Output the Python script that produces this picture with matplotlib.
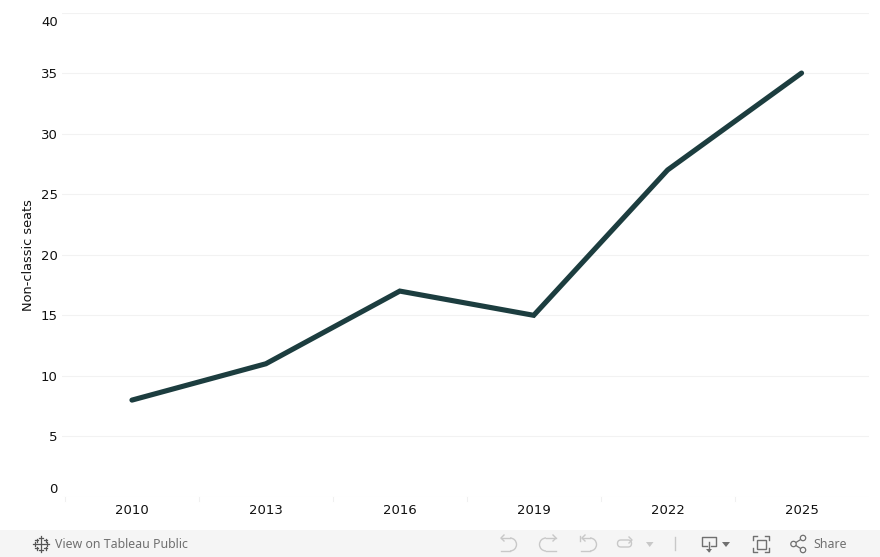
import matplotlib
matplotlib.use('Agg')
import matplotlib.pyplot as plt
import matplotlib.transforms as mtrans
from matplotlib.patches import Rectangle, Circle, Arc, Polygon, FancyBboxPatch

years = ['2010', '2013', '2016', '2019', '2022', '2025']
seats = [8, 11, 17, 15, 27, 35]
y_ticks = [0, 5, 10, 15, 20, 25, 30, 35, 40]

W, H = 880, 557
plt.rcParams['font.family'] = ['DejaVu Sans']
fig = plt.figure(figsize=(W / 100, H / 100), dpi=100)

# chart area, pixel box
L, R, T, B = 62, 868.5, 12.5, 497
ax = fig.add_axes([L / W, 1 - B / H, (R - L) / W, (B - T) / H])
ax.plot(range(len(years)), seats, color='#1c3d3f', lw=3.7, solid_capstyle='round',
        solid_joinstyle='miter', zorder=3, clip_on=False)
ax.set_xlim(-0.5 - 3 / 134, 5.5)
ax.set_ylim(0, 40)
ax.set_xticks(range(len(years)))
ax.set_xticklabels(years, fontsize=9.5, color='#111111')
ax.set_yticks(y_ticks)
ax.set_yticklabels([str(v) for v in y_ticks], fontsize=9.5, color='#111111')
ax.tick_params(axis='both', length=0)
ax.tick_params(axis='x', pad=5.3)
ax.tick_params(axis='y', pad=3)
ax.set_ylabel('Non-classic seats', fontsize=9.25, color='#111111')
ax.yaxis.set_label_coords((35 - L) / (R - L), 0.5)
ax.grid(axis='y', color='#f2f2f2', lw=0.8)
ax.set_axisbelow(True)
for s in ax.spines.values():
    s.set_visible(False)

# end labels sit inside the axis range in Tableau
labs = ax.get_yticklabels()
labs[0].set_transform(labs[0].get_transform() + mtrans.ScaledTranslation(0, 9 / 100, fig.dpi_scale_trans))
labs[-1].set_transform(labs[-1].get_transform() + mtrans.ScaledTranslation(0, -9 / 100, fig.dpi_scale_trans))

# little separators between the year cells
for i in range(-1, 5):
    ax.plot([i + 0.5, i + 0.5], [0, -0.3], color='#f0f0f0', lw=0.8, clip_on=False)

# overlay in pixel coords for the Tableau toolbar
ov = fig.add_axes([0, 0, 1, 1], facecolor='none')
ov.set_xlim(0, W)
ov.set_ylim(H, 0)
ov.axis('off')
ov.add_patch(Rectangle((0, 530), W, 27, color='#f5f5f5', lw=0))
grey = '#707070'
light = '#c8c8c8'

ov.text(55, 544, 'View on Tableau Public', fontsize=8.9, color=grey, va='center', ha='left',
        family=['Noto Sans', 'DejaVu Sans'], fontweight='medium')
ov.text(813, 544, 'Share', fontsize=8.9, color=grey, va='center', ha='left',
        family=['Noto Sans', 'DejaVu Sans'], fontweight='medium')

# tableau logo
for cx, cy, s in [(41, 544, 3), (41, 538, 2), (41, 550, 2), (35, 544, 2), (47, 544, 2),
                  (36.5, 540, 1.5), (45.5, 540, 1.5), (36.5, 548, 1.5), (45.5, 548, 1.5)]:
    ov.plot([cx - s, cx + s], [cy, cy], color='#555555', lw=0.9)
    ov.plot([cx, cx], [cy - s, cy + s], color='#555555', lw=0.9)


def arrow_tip(x, y, d):
    ov.plot([x + 3 * d, x, x + 3 * d], [y - 3, y, y + 3], color=light, lw=1)


# undo / redo / revert / refresh
ov.plot([501, 510, ], [538, 538], color=light, lw=1)
ov.plot([501, 510], [551, 551], color=light, lw=1)
ov.add_patch(Arc((510, 544.5), 13, 13, theta1=-90, theta2=90, color=light, lw=1))
arrow_tip(501, 538, 1)

ov.plot([546, 556], [538, 538], color=light, lw=1)
ov.plot([546, 556], [551, 551], color=light, lw=1)
ov.add_patch(Arc((546, 544.5), 13, 13, theta1=90, theta2=270, color=light, lw=1))
arrow_tip(556, 538, -1)

ov.plot([580, 580], [535.5, 541], color=light, lw=1)
ov.plot([582, 590], [538, 538], color=light, lw=1)
ov.plot([581, 590], [551, 551], color=light, lw=1)
ov.add_patch(Arc((590, 544.5), 13, 13, theta1=-90, theta2=90, color=light, lw=1))
arrow_tip(582, 538, 1)

ov.add_patch(FancyBboxPatch((617.5, 540), 14, 7, boxstyle='round,pad=0,rounding_size=3.5', fill=False,
                            ec=light, lw=1))
arrow_tip(632, 540, -1)
ov.add_patch(Polygon([(646, 542), (653.5, 542), (649.7, 547)], color=light, lw=0))
ov.plot([675, 675], [537, 550], color=light, lw=1)

# download
ov.plot([707, 702, 702, 716, 716, 711], [546, 546, 537, 537, 546, 546], color=grey, lw=1)
ov.plot([709, 709], [542, 551], color=grey, lw=1)
ov.add_patch(Polygon([(706, 549), (712, 549), (709, 552.5)], color=grey, lw=0))
ov.add_patch(Polygon([(722, 542), (730, 542), (726, 547)], color=grey, lw=0))

# fullscreen
ov.add_patch(Rectangle((756.5, 539.5), 9, 9, fill=False, ec=grey, lw=1))
for xa, xb in [(757, 753), (765, 769)]:
    ov.plot([xa, xb, xb], [536, 536, 540], color=grey, lw=1)
    ov.plot([xa, xb, xb], [552, 552, 548], color=grey, lw=1)

# share
pts = [(793.5, 544), (803, 538), (803, 550)]
ov.plot([pts[1][0], pts[0][0], pts[2][0]], [pts[1][1], pts[0][1], pts[2][1]], color=grey, lw=0.9)
for p in pts:
    ov.add_patch(Circle(p, 2.7, fc='#f5f5f5', ec=grey, lw=0.9, zorder=3))

fig.savefig('out.png', dpi=100, facecolor='white')
